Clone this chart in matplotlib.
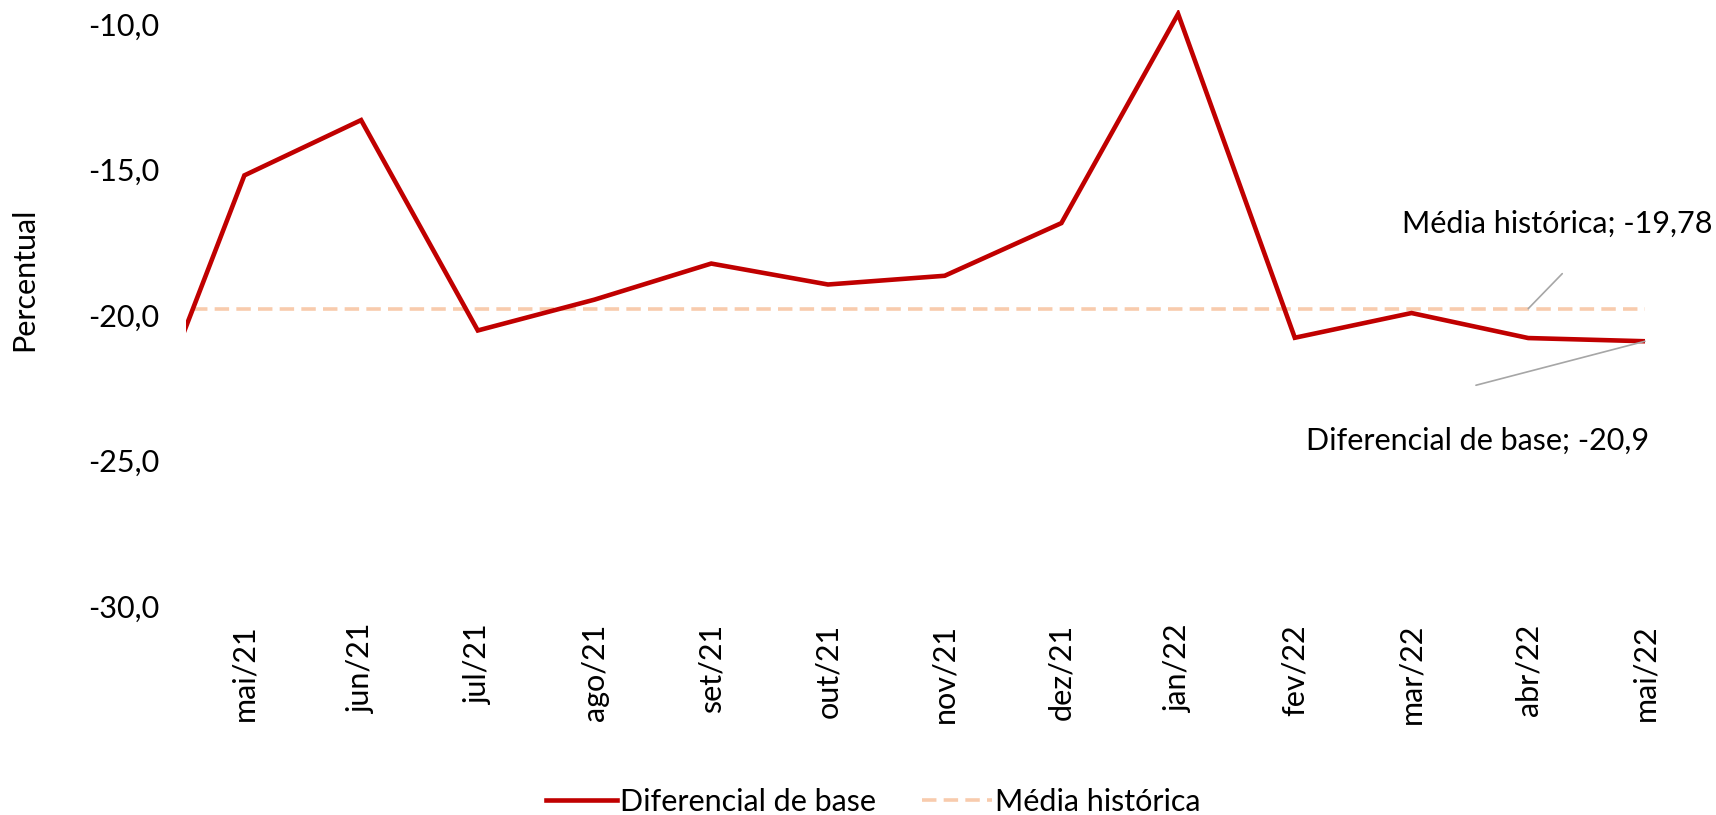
import matplotlib
matplotlib.use("Agg")
import matplotlib.pyplot as plt
from matplotlib.ticker import FuncFormatter

plt.rcParams['font.family'] = ['Lato', 'DejaVu Sans']

# monthly data, abr/21 .. mai/22 (first point sits outside the visible range)
months = ['abr/21', 'mai/21', 'jun/21', 'jul/21', 'ago/21', 'set/21', 'out/21',
          'nov/21', 'dez/21', 'jan/22', 'fev/22', 'mar/22', 'abr/22', 'mai/22']
diferencial = [-25.6, -15.2, -13.3, -20.53, -19.47, -18.23, -18.95,
               -18.65, -16.84, -9.65, -20.78, -19.93, -20.79, -20.9]
media_historica = -19.78

RED = '#C00000'
PEACH = '#F8CBAD'
GREY = '#A6A6A6'
FS = 22

fig = plt.figure(figsize=(17.16, 8.15), dpi=100)
ax = fig.add_axes([0.1084, 0.2564, 0.8502, 0.7319])

x = list(range(len(months)))
ax.plot(x, diferencial, color=RED, lw=3.3, solid_joinstyle='miter',
        label='Diferencial de base', zorder=3)
ax.plot(x, [media_historica] * len(x), color=PEACH, lw=2.6,
        dashes=(4, 2), label='Média histórica', zorder=2)

ax.set_xlim(0.5, len(months) - 1)
ax.set_ylim(-30, -9.5)
ax.set_yticks([-30, -25, -20, -15, -10])
ax.yaxis.set_major_formatter(FuncFormatter(lambda v, p: f'{v:.1f}'.replace('.', ',')))
ax.set_xticks(x[1:])
ax.set_xticklabels(months[1:], rotation=90)
ax.tick_params(axis='y', length=0, pad=19, labelsize=FS)
ax.tick_params(axis='x', length=0, pad=13, labelsize=FS)
for s in ax.spines.values():
    s.set_visible(False)

fig.text(24 / 1716, 1 - 279 / 815, 'Percentual', rotation=90,
         ha='center', va='center', fontsize=FS)

# data labels with leader lines
i_abr = len(months) - 2
i_last = len(months) - 1
ax.annotate('', xy=(i_abr, media_historica), xytext=(34, 35),
            textcoords='offset pixels',
            arrowprops=dict(arrowstyle='-', color=GREY, lw=1.2,
                            shrinkA=0, shrinkB=0))
fig.text(1712 / 1716, 1 - 224 / 815, 'Média histórica; -19,78',
         ha='right', va='center', fontsize=FS)
ax.annotate('', xy=(i_last, diferencial[-1]), xytext=(-169, -44),
            textcoords='offset pixels',
            arrowprops=dict(arrowstyle='-', color=GREY, lw=1.2,
                            shrinkA=0, shrinkB=0))
ax.annotate('Diferencial de base; -20,9', xy=(i_last, diferencial[-1]),
            xytext=(-167, -100), textcoords='offset pixels',
            ha='center', va='center', fontsize=FS)

fig.legend(loc='center', bbox_to_anchor=(0.509, 0.016), ncol=2,
           frameon=False, fontsize=FS, handlelength=2.3,
           handletextpad=0.1, columnspacing=1.5)

fig.savefig('out.png', dpi=100)
